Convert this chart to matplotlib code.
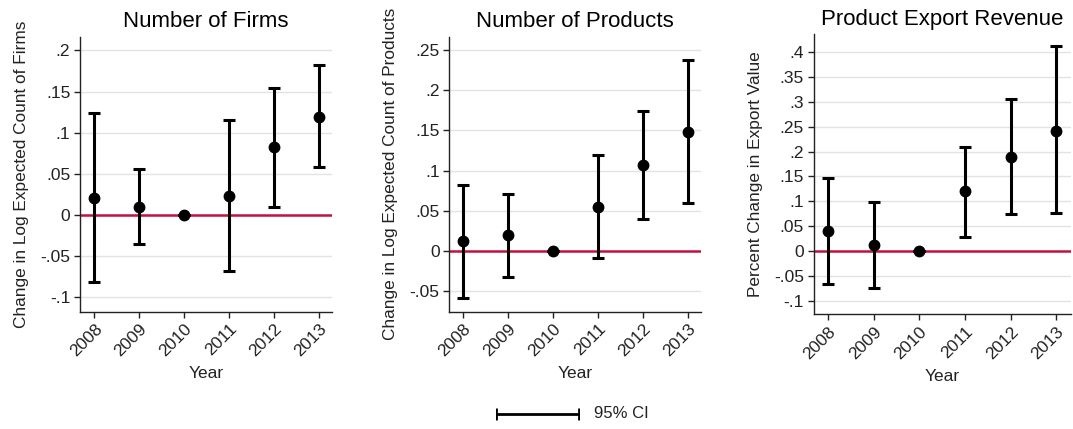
import matplotlib
matplotlib.use("Agg")
import matplotlib.pyplot as plt
import numpy as np

plt.rcParams['font.family'] = ['Liberation Sans', 'DejaVu Sans']

years = [2008, 2009, 2010, 2011, 2012, 2013]

firms_est = [0.0203, 0.0102, 0.0, 0.0232, 0.0829, 0.119]
firms_lo = [-0.0813, -0.0354, 0.0, -0.0683, 0.0102, 0.058]
firms_hi = [0.124, 0.0557, 0.0, 0.115, 0.1545, 0.182]

prod_est = [0.012, 0.0199, 0.0, 0.0547, 0.107, 0.1484]
prod_lo = [-0.058, -0.0327, 0.0, -0.0091, 0.0398, 0.0593]
prod_hi = [0.0816, 0.0713, 0.0, 0.119, 0.174, 0.2375]

rev_est = [0.041, 0.012, 0.0, 0.120, 0.190, 0.2416]
rev_lo = [-0.067, -0.0745, 0.0, 0.0289, 0.0752, 0.0772]
rev_hi = [0.1477, 0.0987, 0.0, 0.2087, 0.3054, 0.412]

titles = ["Number of Firms", "Number of Products", "Product Export Revenue"]
ylabels = ["Change in Log Expected Count of Firms",
           "Change in Log Expected Count of Products",
           "Percent Change in Export Value"]
yticks = [
    [-0.1, -0.05, 0, 0.05, 0.1, 0.15, 0.2],
    [-0.05, 0, 0.05, 0.1, 0.15, 0.2, 0.25],
    [-0.1, -0.05, 0, 0.05, 0.1, 0.15, 0.2, 0.25, 0.3, 0.35, 0.4],
]

def fmt(v):
    if abs(v) < 1e-12:
        return "0"
    s = f"{v:g}"
    return s.replace("0.", ".")

fig = plt.figure(figsize=(10.73, 4.29), dpi=100)

H = 429.0
def rect(left, right, top, bottom):
    return [left / 1073, 1 - bottom / H, (right - left) / 1073, (bottom - top) / H]

rects = [
    rect(80, 332, 36.7, 311.7),
    rect(449.3, 700.7, 36.7, 311.7),
    rect(813.7, 1071, 34.3, 314.3),
]
ylims = [(-0.1175, 0.2167), (-0.0755, 0.2665), (-0.1275, 0.436)]
xlims = [(2007.68, 2013.28), (2007.69, 2013.28), (2007.69, 2013.32)]
series = [(firms_est, firms_lo, firms_hi),
          (prod_est, prod_lo, prod_hi),
          (rev_est, rev_lo, rev_hi)]

red = '#c4123f'
ink = '#222222'

for i, (est, lo, hi) in enumerate(series):
    ax = fig.add_axes(rects[i])
    est = np.array(est); lo = np.array(lo); hi = np.array(hi)
    ax.set_ylim(*ylims[i])
    ax.set_xlim(*xlims[i])
    ax.set_yticks(yticks[i])
    ax.set_yticklabels([fmt(v) for v in yticks[i]], fontsize=12.5, color=ink)
    for t in yticks[i]:
        ax.axhline(t, color='#e3e3e3', lw=1.0, zorder=0)
    ax.axhline(0, color=red, lw=1.8, zorder=1)
    ax.errorbar(years, est, yerr=[est - lo, hi - est], fmt='o', color='black',
                ms=7.5, elinewidth=2.2, capsize=4.5, capthick=2.2, zorder=3)
    ax.set_xticks(years)
    ax.set_xticklabels([str(y) for y in years], rotation=45, ha='right',
                       rotation_mode='anchor', fontsize=12.5, color=ink)
    ax.set_xlabel("Year", fontsize=12.5, color=ink, labelpad=5)
    ax.set_ylabel(ylabels[i], fontsize=12.4, color=ink, labelpad=8)
    ax.set_title(titles[i], fontsize=16, pad=7)
    for s in ['top', 'right']:
        ax.spines[s].set_visible(False)
    for s in ['left', 'bottom']:
        ax.spines[s].set_color(ink)
        ax.spines[s].set_linewidth(1.0)
    ax.tick_params(axis='both', direction='out', length=4, width=1.0, color=ink)
    ax.tick_params(axis='y', pad=3)
    ax.tick_params(axis='x', pad=3)

# legend key for the confidence interval
lax = fig.add_axes([0.462, 0.0, 0.078, 0.07])
lax.set_xlim(0, 1)
lax.set_ylim(-1, 1)
lax.axis('off')
lax.plot([0.0, 1.0], [0, 0], color='black', lw=2.0)
lax.plot([0.0, 1.0], [0, 0], ls='none', marker='|', ms=9, mew=2.0, color='black')
fig.text(0.554, 0.035, "95% CI", ha='left', va='center', fontsize=12, color=ink)

fig.savefig("out.png", dpi=100, facecolor='white')
